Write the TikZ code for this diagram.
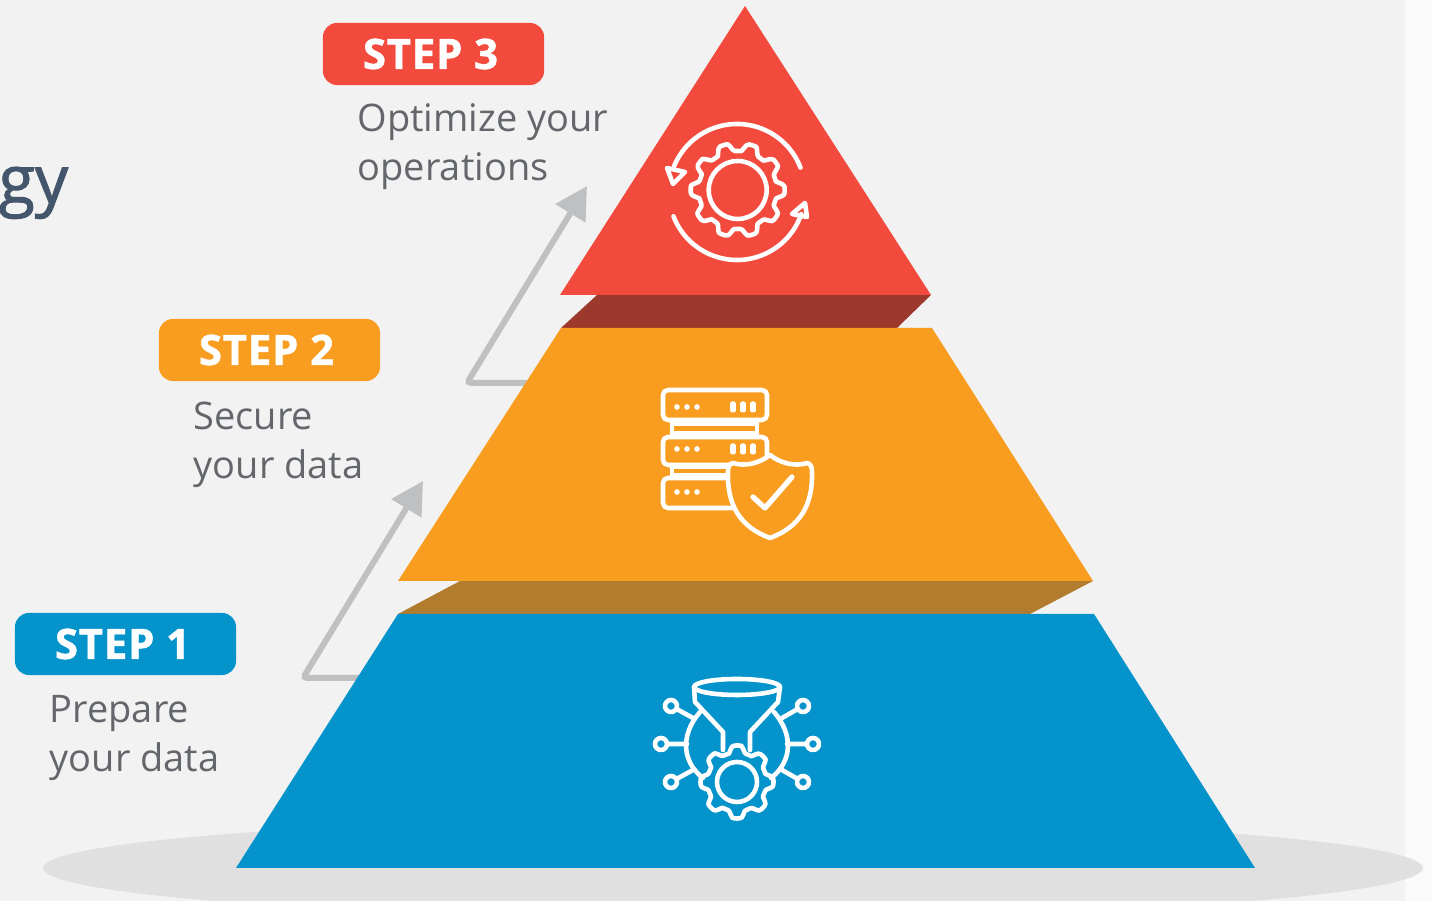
\documentclass[tikz,border=0pt]{standalone}
\usepackage{fontspec}
\setmainfont{Open Sans}
\newfontfamily\titlefont[FakeBold=1.5]{Open Sans}
\newfontfamily\badgefont[FakeBold=1.2,LetterSpace=2]{Open Sans Bold}
\usetikzlibrary{arrows.meta}
\definecolor{bgcol}{HTML}{F2F2F2}
\definecolor{edgecol}{HTML}{FAFAFA}
\definecolor{floorcol}{HTML}{E0E0E0}
\definecolor{redcol}{HTML}{F24B3E}
\definecolor{reddark}{HTML}{9C382C}
\definecolor{orangecol}{HTML}{F99D20}
\definecolor{orangedark}{HTML}{B17C2E}
\definecolor{bluecol}{HTML}{0493CB}
\definecolor{arrowcol}{HTML}{BEC0C2}
\definecolor{textcol}{HTML}{63666A}
\definecolor{titlecol}{HTML}{44566B}
\tikzset{
  stepbadge/.style={fill=#1,rounded corners=0.14cm,minimum width=2.21cm,minimum height=0.62cm,
    text=white,font=\fontsize{11.9}{14}\badgefont,inner sep=0pt},
  steptext/.style={anchor=north west,align=left,text=textcol,inner sep=0pt,
    font=\fontsize{10.8}{14}\selectfont},
  iconline/.style={draw=white,line width=1.3pt,line cap=round,line join=round},
  climbarrow/.style={draw=arrowcol,line width=1.7pt,rounded corners=0.04cm,-{Triangle[length=0.32cm,width=0.34cm]}}
}
% centre x, centre y, radius, tooth depth, number of teeth
\newcommand{\gearoutline}[5]{
  \draw[iconline] plot[smooth cycle,domain=0:359,samples=#5*12+1]
    ({#1+(#3+#4*min(1,max(-1,1.7*cos(#5*\x))))*cos(\x)},{#2+(#3+#4*min(1,max(-1,1.7*cos(#5*\x))))*sin(\x)});
}
\begin{document}
\begin{tikzpicture}[x=0.01cm,y=-0.01cm]
  \useasboundingbox (0,0) rectangle (1432,901);
  \clip (0,0) rectangle (1432,901);
  \fill[edgecol] (0,0) rectangle (1432,901);
  \fill[bgcol] (0,0) rectangle (1405,901);
  \fill[floorcol] (733,868) ellipse (690 and 50);
  \node[anchor=base west,inner sep=0pt,text=titlecol,font=\fontsize{18.8}{20}\titlefont] (title) at (-2,203) {gy};

  % arrows go behind the layers
  \coordinate (startA) at (360,678);
  \coordinate (bendA) at (303,678);
  \coordinate (tipA) at (423,481);
  \coordinate (startB) at (527,383);
  \coordinate (bendB) at (467,383);
  \coordinate (tipB) at (587,186);
  \draw[climbarrow] (startA) -- (bendA) -- (tipA);
  \draw[climbarrow] (startB) -- (bendB) -- (tipB);

  % layers
  \fill[reddark] (597,295) -- (931,295) -- (897,328) -- (561,328) -- cycle;
  \fill[redcol] (745,6) -- (931,295) -- (560,295) -- cycle;
  \fill[orangedark] (460,581) -- (1093,581) -- (1030,614) -- (398,614) -- cycle;
  \fill[orangecol] (561,328) -- (932,328) -- (1093,581) -- (398,581) -- cycle;
  \fill[bluecol] (398,614) -- (1094,614) -- (1255,868) -- (236,868) -- cycle;

  % labels
  \node[stepbadge=redcol] (stepC) at (433.5,54) {STEP 3\kern1.7pt\relax};
  \node[stepbadge=orangecol] (stepB) at (269.5,350) {STEP 2\kern1.7pt\relax};
  \node[stepbadge=bluecol] (stepA) at (125.5,644) {STEP 1\kern1.7pt\relax};
  \node[steptext] (textC) at (357,102.5) {Optimize your\\operations};
  \node[steptext] (textB) at (193,401.5) {Secure\\your data};
  \node[steptext] (textA) at (49,694.5) {Prepare\\your data};

  % icon: gear and two turning arrows
  \gearoutline{737.7}{190}{43}{4}{10}
  \draw[iconline] (737.7,190) circle (29);
  \draw[iconline] (737,192) ++(-21:68) arc[start angle=-21,end angle=-158,radius=68];
  \draw[iconline] (737,192) ++(159:68) arc[start angle=159,end angle=19,radius=68];
  \draw[iconline] (667,168) -- (685,172) -- (673,184) -- cycle;
  \draw[iconline] (805,203) -- (792,214) -- (807,217) -- cycle;

  % icon: servers and shield
  \draw[iconline,rounded corners=0.05cm] (663,390) rectangle (767,420);
  \draw[iconline,rounded corners=0.05cm] (663,437) rectangle (767,465);
  \draw[iconline,rounded corners=0.05cm] (735,508) -- (663,508) -- (663,478) -- (735,478);
  \draw[iconline] (672,420) -- (672,437) (757,420) -- (757,437) (672,424) -- (757,424) (672,433) -- (757,433);
  \draw[iconline] (672,465) -- (672,478) (672,467) -- (735,467) (672,475) -- (732,475);
  \foreach \y in {407,449,492}
    \foreach \x in {677,687,697}
      \fill[white] (\x,\y) circle (2.8);
  \foreach \y in {407,449}
    \foreach \x in {733,743,753}
      \fill[white,rounded corners=0.02cm] (\x-2.8,\y-5.5) rectangle (\x+2.8,\y+5.5);
  \draw[iconline,fill=orangecol] (770,455) .. controls (760,463) and (745,467) .. (733,463)
    .. controls (729,464) and (728,467) .. (728,472) .. controls (727,505) and (740,527) .. (770,538)
    .. controls (800,527) and (813,505) .. (812,472) .. controls (812,467) and (811,464) .. (807,463)
    .. controls (795,467) and (780,463) .. (770,455) -- cycle;
  \draw[iconline,line width=1.5pt] (753,497) -- (765,508) -- (792,477);

  % icon: funnel, gear and network
  \draw[iconline] (737,687) ellipse (43 and 8);
  \draw[iconline] (694,687) -- (695,702) -- (723,732) -- (723,750);
  \draw[iconline] (780,687) -- (778,702) -- (750,732) -- (750,750);
  \gearoutline{737}{782}{33}{3.5}{8}
  \draw[iconline] (737,782) circle (20);
  \draw[iconline] (700,712) .. controls (680,735) and (682,762) .. (703,778);
  \draw[iconline] (774,712) .. controls (794,735) and (792,762) .. (771,778);
  \foreach \x/\y/\a/\b in {661/744/687/744,671/706/693/718,671/782/693/770,813/744/787/744,803/706/782/718,803/782/782/770}
    \draw[iconline] (\x,\y) circle (6) (\a,\b) -- (\x+0.27*\a-0.27*\x,\y+0.27*\b-0.27*\y);
\end{tikzpicture}
\end{document}
